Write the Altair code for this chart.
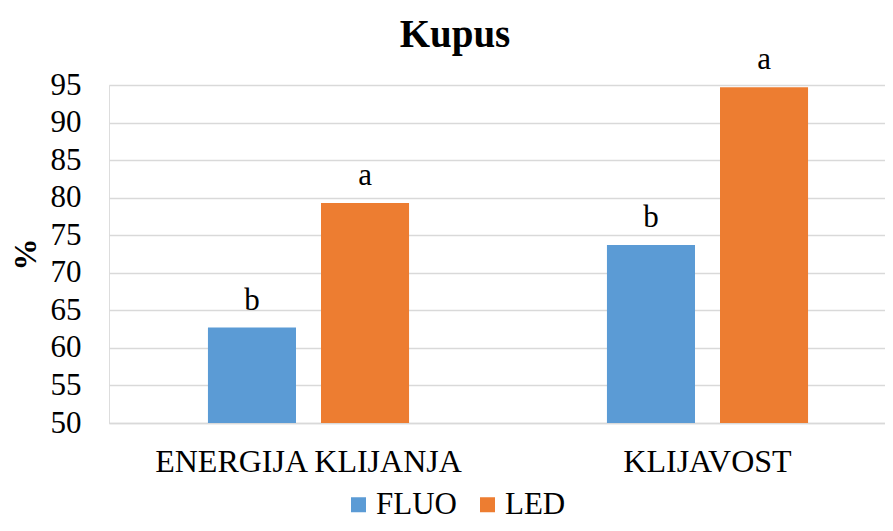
import altair as alt
import pandas as pd

categories = ["ENERGIJA KLIJANJA", "ENERGIJA KLIJANJA", "KLIJAVOST", "KLIJAVOST"]
series = ["FLUO", "LED", "FLUO", "LED"]
values = [62.7, 79.3, 73.7, 94.7]
letters = ["b", "a", "b", "a"]

cat_order = ["ENERGIJA KLIJANJA", "KLIJAVOST"]
series_order = ["FLUO", "LED"]
colors = ["#5B9BD5", "#ED7D31"]
y_ticks = [50, 55, 60, 65, 70, 75, 80, 85, 90, 95]
y_base = 50

df = pd.DataFrame({"cat": categories, "series": series, "value": values, "letter": letters})

FONT = "Liberation Serif"

x_enc = alt.X("cat:N", sort=cat_order, title=None,
              scale=alt.Scale(range=[0, 798], paddingInner=0.496, paddingOuter=0.248),
              axis=alt.Axis(labelFont=FONT, labelFontSize=32, labelColor="#000000",
                            labelAngle=0, ticks=False, labelPadding=23, labelLimit=0,
                            domainColor="#d9d9d9", domainWidth=1.5, grid=False))
xoff_enc = alt.XOffset("series:N", sort=series_order,
                       scale=alt.Scale(paddingInner=0.2212, paddingOuter=0))
y_enc = alt.Y("value:Q", title="%",
              scale=alt.Scale(domain=[50, 95], zero=False, nice=False),
              axis=alt.Axis(values=y_ticks, labelFont=FONT, labelFontSize=31,
                            labelColor="#000000", ticks=False, labelPadding=28,
                            labelOverlap=False,
                            domain=False, gridColor="#d9d9d9", gridWidth=1.5,
                            titleFont=FONT, titleFontSize=32, titleFontWeight="bold",
                            titleColor="#000000", titleAngle=270, titleX=-84, titleY=169,
                            titleBaseline="middle", titleAlign="center"))

bars = alt.Chart(df).mark_bar().encode(
    x=x_enc,
    xOffset=xoff_enc,
    y=y_enc,
    y2=alt.datum(y_base),
    color=alt.Color("series:N", sort=series_order,
                    scale=alt.Scale(domain=series_order, range=colors),
                    legend=alt.Legend(title=None, orient="none", direction="horizontal",
                                      legendX=234, legendY=404, padding=0,
                                      symbolType="square", symbolSize=225,
                                      symbolStrokeWidth=0, symbolOpacity=1,
                                      labelFont=FONT, labelFontSize=31, labelColor="#000000",
                                      labelOffset=2, columnPadding=15)),
)

labels = alt.Chart(df).mark_text(font=FONT, fontSize=31, color="#000000",
                                 baseline="alphabetic", dy=-18).encode(
    x=x_enc,
    xOffset=xoff_enc,
    y=y_enc,
    text="letter:N",
)

chart = alt.layer(bars, labels).properties(
    width=776,
    height=338,
    title=alt.TitleParams("Kupus", font=FONT, fontSize=39, fontWeight="bold",
                          color="#000000", anchor="middle", dx=-42, dy=21, offset=10),
    autosize=alt.AutoSizeParams(type="none"),
    padding={"left": 101, "top": 77, "right": 0, "bottom": 100},
).configure_view(stroke=None).configure(background="#ffffff")

chart.save("out.html", embed_options={"renderer": "svg", "actions": False})
